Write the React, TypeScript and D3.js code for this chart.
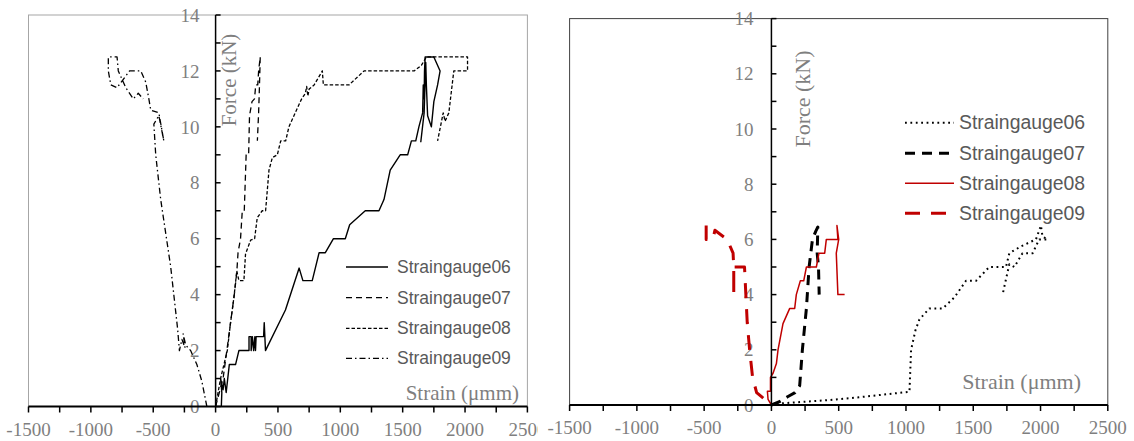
import React from "react";
import * as d3 from "d3";

type P = [number, number];

// ---------- Left panel data (strain µm/m, force kN) ----------
const leftG06: P[] = [
  [46, 0], [50, 0.5], [40, 1], [60, 0.6], [70, 1], [85, 0.5], [110, 1.5], [160, 1.5], [187, 2], [268, 2],
  [268, 2.5], [285, 2.5], [285, 2], [295, 2.5], [305, 2], [315, 2.5], [320, 2], [325, 2.5], [385, 2.5], [390, 3],
  [400, 2], [560, 3.45], [670, 4.95], [700, 4.5], [775, 4.5], [830, 5.5], [880, 5.5], [945, 6], [1040, 6],
  [1075, 6.5], [1200, 7], [1310, 7], [1350, 7.4], [1400, 8.45], [1480, 9], [1540, 9], [1570, 9.5], [1605, 9.5],
  [1630, 10], [1660, 10.5], [1665, 11.5], [1672, 11], [1675, 12], [1680, 12.5], [1750, 12.5], [1800, 12],
  [1780, 11.5], [1750, 10.9], [1730, 10], [1700, 10.4], [1690, 11.5], [1685, 12.3], [1672, 10.5], [1645, 9.45],
];
const leftG07: P[] = [
  [0, 0], [30, 0.5], [60, 1], [90, 2], [120, 3], [150, 4], [170, 4.8], [180, 5.5], [200, 6], [214, 7],
  [230, 7], [245, 9], [265, 9], [272, 10.4], [292, 10.9], [312, 11], [322, 11.5], [338, 11.5], [345, 12],
  [358, 12.5], [352, 11.5], [345, 10.5], [335, 9.5],
];
const leftG08: P[] = [
  [0, 0], [40, 1], [94, 2], [120, 3], [147, 3.9], [170, 4.85], [187, 4.5], [227, 4.5], [240, 5.45],
  [281, 5.95], [313, 6], [334, 6.75], [374, 7], [401, 7], [428, 8.45], [455, 8.9], [495, 9], [522, 9.5],
  [562, 9.5], [588, 10], [669, 10.8], [690, 11], [720, 11.2], [730, 11.45], [740, 11.1], [750, 11.35],
  [790, 11.5], [856, 12], [864, 11.5], [1070, 11.5], [1190, 12], [1592, 12], [1650, 12.2], [1690, 12.5],
  [2020, 12.5], [2020, 12], [1910, 12], [1870, 10.5], [1840, 10.2], [1825, 10.5], [1780, 9.5],
];
const leftG09: P[] = [
  [-70, 0], [-110, 0.9], [-150, 1.5], [-200, 2], [-240, 2.2], [-260, 2.6], [-245, 2.1], [-270, 2.4],
  [-290, 2], [-305, 2.8], [-360, 5], [-400, 6.2], [-440, 7.4], [-480, 9], [-495, 10.1], [-455, 10.4],
  [-415, 9.5], [-455, 10.5], [-520, 10.6], [-535, 11], [-560, 11.6], [-600, 12], [-690, 12], [-740, 11.7],
  [-790, 11.4], [-840, 11.5], [-860, 12], [-860, 12.5], [-790, 12.5], [-780, 12], [-720, 11.4], [-660, 11],
  [-620, 11.2], [-580, 11],
];

// ---------- Right panel data ----------
const rightG06: P[] = [
  [0, 0], [50, 0.05], [430, 0.18], [650, 0.28], [1026, 0.48], [1038, 2], [1070, 2.7], [1100, 3.1],
  [1174, 3.5], [1273, 3.5], [1360, 3.9], [1446, 4.5], [1521, 4.5], [1619, 5], [1743, 5], [1768, 5.5],
  [1855, 5.75], [1966, 6], [2003, 6.5], [2015, 6.1], [2052, 6], [2015, 6], [1990, 6], [1941, 5.5],
  [1866, 5.5], [1805, 5], [1768, 5.1], [1718, 4],
];
const rightG07: P[] = [
  [0, 0], [60, 0.12], [120, 0.3], [175, 0.45], [210, 0.7], [230, 2], [260, 3.5], [280, 5], [305, 6],
  [330, 6.3], [345, 6.45], [340, 5.5], [350, 5], [355, 4],
];
const rightG08: P[] = [
  [0, 0], [-25, 0.2], [-30, 0.5], [-7, 0.5], [-7, 1], [12, 1.15], [37, 1.5], [49, 2], [86, 2.95],
  [136, 3.5], [173, 3.5], [185, 4], [215, 4.5], [240, 4.5], [260, 5], [334, 5], [353, 5.5], [396, 5.5],
  [408, 6], [494, 6], [487, 6.5], [500, 6], [482, 5.5], [494, 4], [544, 4],
];
const rightG09: P[] = [
  [-485, 6.5], [-485, 6], [-435, 6], [-420, 6.33], [-330, 6], [-320, 5.9], [-285, 5.5], [-280, 5],
  [-280, 4], [-280, 5], [-200, 5], [-190, 4], [-180, 3], [-162, 2], [-140, 1], [-110, 0.45], [0, 0],
];

const xTickValues = [-1500, -1000, -500, 0, 500, 1000, 1500, 2000, 2500];
const yTickValues = [0, 2, 4, 6, 8, 10, 12, 14];
const legendNames = ["Straingauge06", "Straingauge07", "Straingauge08", "Straingauge09"];

const SERIF = "'Liberation Serif', 'Times New Roman', serif";
const SANS = "'Liberation Sans', Arial, sans-serif";
const RED = "#c00000";

type Style = { stroke: string; width: number; dash?: string; cap?: "butt" | "round" | "square" };

interface PanelProps {
  x0: number; x1: number; yb: number; yt: number;
  series: P[][];
  styles: Style[];
  frame: string;
  legend: { lx0: number; lx1: number; tx: number; ys: number[]; size: number };
  forceLabel: { x: number; y: number; size: number };
  strainLabel: { x: number; y: number; size: number };
  tickSize: number;
  yLabelGap: number;
}

function Panel(p: PanelProps) {
  const x = d3.scaleLinear().domain([-1500, 2500]).range([p.x0, p.x1]);
  const y = d3.scaleLinear().domain([0, 14]).range([p.yb, p.yt]);
  const line = d3.line<P>().x((d) => x(d[0])).y((d) => y(d[1]));
  const ax = x(0);
  const minorX = d3.range(-1500, 2501, 250);
  const minorY = d3.range(0, 15, 1);
  return (
    <g>
      <rect x={p.x0} y={p.yt} width={p.x1 - p.x0} height={p.yb - p.yt} fill="none" stroke={p.frame} strokeWidth={1} />
      {yTickValues.map((v) => (
        <text key={"yl" + v} x={ax - p.yLabelGap} y={y(v)} dy="0.35em" textAnchor="end"
          fontFamily={SERIF} fontSize={p.tickSize} fill="#7f7f7f">{v}</text>
      ))}
      {xTickValues.map((v) => (
        <text key={"xl" + v} x={x(v)} y={p.yb + 29} textAnchor="middle"
          fontFamily={SERIF} fontSize={p.tickSize} fill="#7f7f7f">{v}</text>
      ))}
      <text transform={`translate(${p.forceLabel.x},${p.forceLabel.y}) rotate(-90)`} textAnchor="middle" dy="0.35em"
        fontFamily={SERIF} fontSize={p.forceLabel.size} fill="#7f7f7f">Force (kN)</text>
      <text x={p.strainLabel.x} y={p.strainLabel.y} textAnchor="end"
        fontFamily={SERIF} fontSize={p.strainLabel.size} fill="#7f7f7f">Strain (μmm)</text>
      {p.series.map((s, i) => (
        <path key={"s" + i} d={line(s) || ""} fill="none" stroke={p.styles[i].stroke}
          strokeWidth={p.styles[i].width} strokeDasharray={p.styles[i].dash}
          strokeLinecap={p.styles[i].cap || "butt"} strokeLinejoin="round" />
      ))}
      {legendNames.map((n, i) => (
        <g key={"lg" + i}>
          <line x1={p.legend.lx0} x2={p.legend.lx1} y1={p.legend.ys[i]} y2={p.legend.ys[i]}
            stroke={p.styles[i].stroke} strokeWidth={p.styles[i].width} strokeDasharray={p.styles[i].dash}
            strokeLinecap={p.styles[i].cap || "butt"} />
          <text x={p.legend.tx} y={p.legend.ys[i]} dy="0.35em" fontFamily={SANS} fontSize={p.legend.size}
            fill="#595959">{n}</text>
        </g>
      ))}
      {/* axes */}
      <line x1={p.x0} x2={p.x1} y1={y(0)} y2={y(0)} stroke="#000" strokeWidth={2} />
      {minorX.map((v) => (
        <line key={"xt" + v} x1={x(v)} x2={x(v)} y1={y(0)} y2={y(0) + 6} stroke="#000" strokeWidth={1.5} />
      ))}
      <line x1={ax} x2={ax} y1={p.yt} y2={p.yb} stroke="#000" strokeWidth={1.5} />
      {minorY.map((v) => (
        <line key={"yt" + v} x1={ax} x2={ax + 5} y1={y(v)} y2={y(v)} stroke="#000" strokeWidth={1.5} />
      ))}
    </g>
  );
}

export default function App() {
  const leftStyles: Style[] = [
    { stroke: "#000", width: 1.4 },
    { stroke: "#000", width: 1.3, dash: "6 4" },
    { stroke: "#000", width: 1.3, dash: "3.5 2" },
    { stroke: "#000", width: 1.3, dash: "6 3 1.5 3" },
  ];
  const rightStyles: Style[] = [
    { stroke: "#000", width: 2, dash: "1.8 3.6" },
    { stroke: "#000", width: 3, dash: "10 7" },
    { stroke: RED, width: 1.5 },
    { stroke: RED, width: 3, dash: "15 11" },
  ];
  return (
    <svg width={1134} height={441} style={{ position: "absolute", left: 0, top: 0, background: "#fff" }}>
      <rect x={0} y={0} width={1134} height={441} fill="#fff" />
      <Panel
        x0={28.5} x1={527.4} yb={406.5} yt={15}
        series={[leftG06, leftG07, leftG08, leftG09]}
        styles={leftStyles}
        frame="#a6a6a6"
        legend={{ lx0: 346, lx1: 388, tx: 397, ys: [267, 297.7, 328.3, 358.3], size: 17.5 }}
        forceLabel={{ x: 229, y: 80, size: 21 }}
        strainLabel={{ x: 519, y: 400, size: 21 }}
        tickSize={19}
        yLabelGap={16}
      />
      <rect x={538} y={0} width={596} height={441} fill="#fff" />
      <Panel
        x0={569.6} x1={1107.8} yb={405} yt={18.6}
        series={[rightG06, rightG07, rightG08, rightG09]}
        styles={rightStyles}
        frame="#404040"
        legend={{ lx0: 905, lx1: 954, tx: 959, ys: [122.7, 153.3, 183.3, 213.3], size: 19.4 }}
        forceLabel={{ x: 802, y: 99, size: 22 }}
        strainLabel={{ x: 1081, y: 389, size: 22 }}
        tickSize={19}
        yLabelGap={18}
      />
    </svg>
  );
}
